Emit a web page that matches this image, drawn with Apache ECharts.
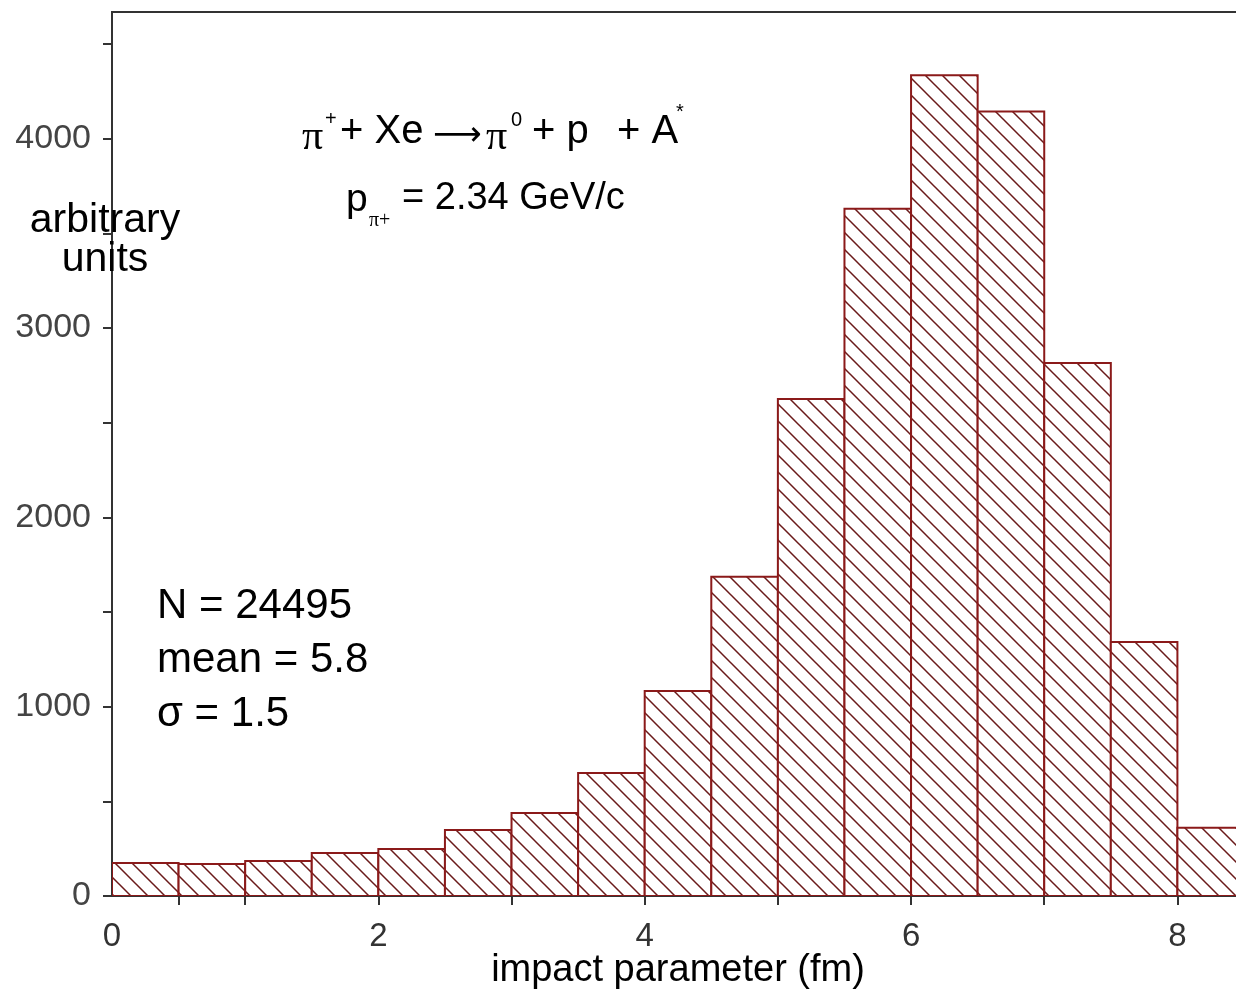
<!DOCTYPE html>
<html><head><meta charset="utf-8">
<script src="https://cdn.jsdelivr.net/npm/echarts@6/dist/echarts.min.js"></script>
<style>html,body{margin:0;padding:0;background:#fff}#c{width:1236px;height:991px}</style>
</head><body><div id="c"></div>
<script>
// ---- data ----
const binStarts = [0, 0.5, 1, 1.5, 2, 2.5, 3, 3.5, 4, 4.5, 5, 5.5, 6, 6.5, 7, 7.5, 8];
const binWidth = 0.5;
const counts = [174, 169, 185, 227, 248, 349, 439, 650, 1083, 1686, 2626, 3630, 4336, 4144, 2816, 1342, 361];
const xTickValues = [0.5, 1, 2, 3, 4, 5, 6, 7, 8];
const xLabelValues = [0, 2, 4, 6, 8];
const yTickValues = [0, 500, 1000, 1500, 2000, 2500, 3000, 3500, 4000, 4500];
const yLabelValues = [0, 1000, 2000, 3000, 4000];
const xAxisTitle = 'impact parameter (fm)';
const yAxisTitle = 'arbitrary\nunits';
const statsLines = ['N = 24495', 'mean = 5.8', 'σ = 1.5'];

// ---- hatch pattern ----
const P = 17;
const pc = document.createElement('canvas');
pc.width = P; pc.height = P;
const g = pc.getContext('2d');
g.fillStyle = '#ffffff'; g.fillRect(0, 0, P, P);
g.strokeStyle = '#6a1a1a'; g.lineWidth = 1.5;
g.beginPath();
for (const k of [-P, 0, P]) { g.moveTo(k - 2, -2); g.lineTo(k + P + 2, P + 2); }
g.stroke();
const hatch = { image: pc, repeat: 'repeat' };

const histData = binStarts.map((s, i) => [s, s + binWidth, counts[i]]);

const chart = echarts.init(document.getElementById('c'), null, { renderer: 'canvas' });
const sans = 'Liberation Sans, Arial, sans-serif';
const serif = 'Liberation Serif, Times New Roman, serif';

function txt(x, y, text, size, opts) {
  opts = opts || {};
  return {
    type: 'text', z: 100,
    style: {
      x: x, y: y, text: text,
      fontSize: size, fontFamily: opts.family || sans,
      fill: opts.fill || '#000',
      align: opts.align || 'left', verticalAlign: 'middle',
      textAlign: opts.align || 'left', textVerticalAlign: 'middle',
      lineHeight: opts.lineHeight
    }
  };
}

chart.setOption({
  animation: false,
  backgroundColor: '#fff',
  grid: {
    left: 112, width: 1132, top: 12, bottom: 95,
    containLabel: false, outerBoundsMode: 'none',
    show: true, borderColor: '#333', borderWidth: 2, backgroundColor: 'transparent'
  },
  xAxis: {
    type: 'value', min: 0, max: 8.5, interval: 0.5,
    splitLine: { show: false },
    axisLine: { show: true, onZero: false, lineStyle: { color: '#333', width: 2 } },
    axisTick: { show: true, inside: false, length: 9, customValues: xTickValues, lineStyle: { color: '#333', width: 2 } },
    axisLabel: { customValues: xLabelValues, margin: 24, fontSize: 33, fontFamily: sans, color: '#333', formatter: v => String(v) },
    name: xAxisTitle, nameLocation: 'middle', nameGap: 56, nameMoveOverlap: false,
    nameTextStyle: { fontSize: 38, fontFamily: sans, color: '#000' }
  },
  yAxis: {
    type: 'value', min: 0, max: 4670, interval: 500,
    splitLine: { show: false },
    axisLine: { show: true, lineStyle: { color: '#333', width: 2 } },
    axisTick: { show: true, inside: false, length: 9, customValues: yTickValues, lineStyle: { color: '#333', width: 2 } },
    axisLabel: { customValues: yLabelValues, margin: 21, fontSize: 34, fontFamily: sans, color: '#444', formatter: v => String(v) }
  },
  series: [{
    type: 'custom',
    clip: true,
    data: histData,
    encode: { x: [0, 1], y: 2 },
    renderItem: function (params, api) {
      const x0 = api.value(0), x1 = api.value(1), v = api.value(2);
      const a = api.coord([x0, v]);
      const b = api.coord([x1, 0]);
      return {
        type: 'rect',
        shape: { x: a[0], y: a[1], width: b[0] - a[0], height: b[1] - a[1] },
        style: { fill: hatch, stroke: '#8b1a1a', lineWidth: 2 }
      };
    }
  }],
  graphic: [
    txt(105, 240, yAxisTitle, 41, { align: 'center', lineHeight: 39 }),
    // reaction line
    txt(302, 138, 'π', 42, { family: serif }),
    txt(325, 119, '+', 20),
    txt(340, 132, '+ Xe', 40),
    txt(433, 136, '⟶', 34, { family: 'DejaVu Sans, sans-serif' }),
    txt(486, 138, 'π', 42, { family: serif }),
    txt(511, 120, '0', 20),
    txt(532, 132, '+ p', 40),
    txt(617, 132, '+ A', 40),
    txt(676, 112, '*', 20),
    // momentum line
    txt(346, 200, 'p', 39),
    txt(369, 221, 'π+', 20, { family: serif }),
    txt(402, 199, '= 2.34 GeV/c', 38),
    // stats
    txt(157, 606, statsLines[0], 42),
    txt(157, 660, statsLines[1], 42),
    txt(157, 714, statsLines[2], 42)
  ]
});
</script>
</body></html>
